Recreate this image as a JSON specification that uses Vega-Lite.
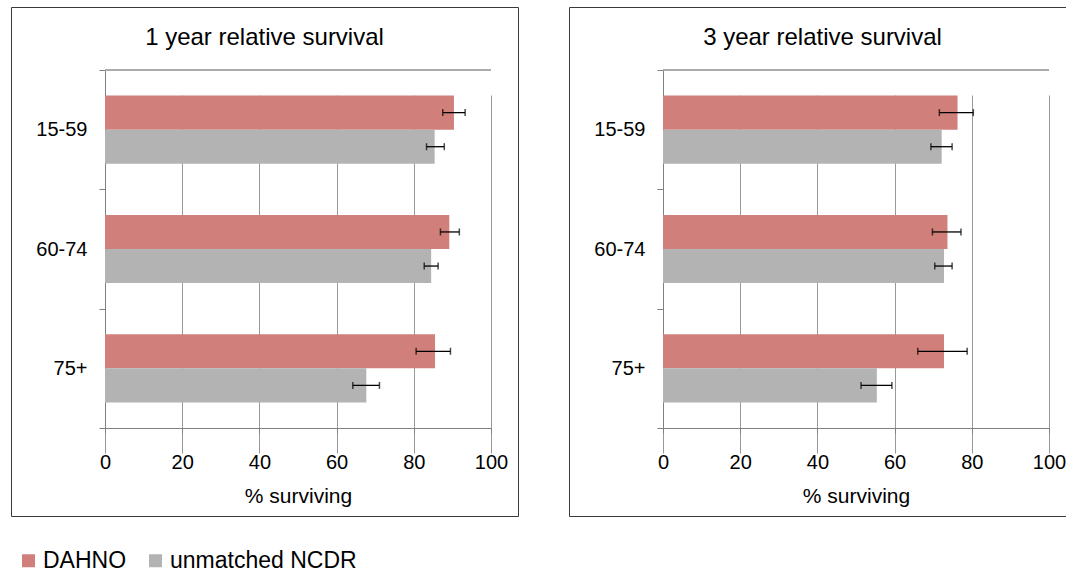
{
  "$schema": "https://vega.github.io/schema/vega-lite/v6.json",
  "padding": {"left": 10, "top": -4, "right": 0, "bottom": 0},
  "autosize": {"type": "pad"},
  "background": "white",
  "data": {"values": [
    {"panel": 1, "age": "15-59", "series": "DAHNO", "value": 90.4, "lo": 87.5, "hi": 93.3},
    {"panel": 1, "age": "15-59", "series": "unmatched NCDR", "value": 85.4, "lo": 83.3, "hi": 87.9},
    {"panel": 1, "age": "60-74", "series": "DAHNO", "value": 89.2, "lo": 86.9, "hi": 91.8},
    {"panel": 1, "age": "60-74", "series": "unmatched NCDR", "value": 84.5, "lo": 82.7, "hi": 86.3},
    {"panel": 1, "age": "75+", "series": "DAHNO", "value": 85.5, "lo": 80.6, "hi": 89.5},
    {"panel": 1, "age": "75+", "series": "unmatched NCDR", "value": 67.7, "lo": 64.2, "hi": 71.1},
    {"panel": 3, "age": "15-59", "series": "DAHNO", "value": 76.3, "lo": 71.6, "hi": 80.4},
    {"panel": 3, "age": "15-59", "series": "unmatched NCDR", "value": 72.2, "lo": 69.4, "hi": 74.9},
    {"panel": 3, "age": "60-74", "series": "DAHNO", "value": 73.7, "lo": 69.8, "hi": 77.2},
    {"panel": 3, "age": "60-74", "series": "unmatched NCDR", "value": 72.8, "lo": 70.4, "hi": 74.9},
    {"panel": 3, "age": "75+", "series": "DAHNO", "value": 72.8, "lo": 66.0, "hi": 78.8},
    {"panel": 3, "age": "75+", "series": "unmatched NCDR", "value": 55.4, "lo": 51.3, "hi": 59.3}
  ]},
  "spacing": 49,
  "resolve": {"scale": {"color": "shared"}},
  "hconcat": [
    {
      "width": 507, "height": 509,
      "title": {"text": "1 year relative survival", "fontSize": 24, "fontWeight": "normal", "anchor": "middle", "frame": "group", "offset": -65, "baseline": "middle", "color": "black"},
      "transform": [{"filter": "datum.panel == 1"}],
      "layer": [
        {
          "mark": {"type": "bar"},
          "encoding": {
            "y": {"field": "age", "type": "nominal", "sort": null,
                  "scale": {"domain": ["15-59", "60-74", "75+"], "range": [63, 421], "paddingInner": 0, "paddingOuter": 0},
                  "axis": {"title": null, "offset": -94, "tickBand": "extent", "tickSize": 6, "labelPadding": 12, "labelFontSize": 20, "labelColor": "black", "domainColor": "#808080", "tickColor": "#808080", "grid": false}},
            "yOffset": {"field": "series", "type": "nominal", "scale": {"domain": ["DAHNO", "unmatched NCDR"], "paddingInner": 0, "paddingOuter": 0.75}},
            "x": {"field": "value", "type": "quantitative",
                  "scale": {"domain": [0, 100], "range": [94, 480], "nice": false},
                  "axis": {"values": [0, 20, 40, 60, 80, 100], "offset": -88, "grid": true, "gridColor": "#999999", "domainColor": "#808080", "tickColor": "#808080", "tickSize": 5, "labelPadding": 19, "labelFlush": false, "labelFontSize": 20, "labelColor": "black", "title": "% surviving", "titleFontSize": 21, "titleFontWeight": "normal", "titleColor": "black", "titlePadding": 13}},
            "color": {"field": "series", "type": "nominal",
                      "scale": {"domain": ["DAHNO", "unmatched NCDR"], "range": ["#D17F7B", "#B3B3B3"]},
                      "legend": {"title": null, "orient": "none", "legendX": 6, "legendY": 542, "direction": "horizontal", "symbolType": "square", "symbolSize": 169, "symbolStrokeWidth": 0, "labelFontSize": 23, "labelLimit": 0, "labelColor": "black", "labelOffset": 3, "columnPadding": 17, "padding": 0}}
          }
        },
        {
          "mark": {"type": "rule", "color": "#aaaaaa", "strokeWidth": 1},
          "encoding": {
            "x": {"datum": 0, "type": "quantitative"},
            "x2": {"datum": 100},
            "y": {"datum": "15-59", "type": "nominal", "bandPosition": 0}
          }
        },
        {
          "mark": {"type": "rule", "color": "black", "strokeWidth": 1.3},
          "encoding": {
            "y": {"field": "age", "type": "nominal", "sort": null},
            "yOffset": {"field": "series", "type": "nominal"},
            "x": {"field": "lo", "type": "quantitative"},
            "x2": {"field": "hi"}
          }
        },
        {
          "transform": [{"fold": ["lo", "hi"], "as": ["end", "pos"]}],
          "mark": {"type": "tick", "orient": "vertical", "size": 7, "thickness": 1.5, "color": "black"},
          "encoding": {
            "y": {"field": "age", "type": "nominal", "sort": null},
            "yOffset": {"field": "series", "type": "nominal"},
            "x": {"field": "pos", "type": "quantitative"}
          }
        }
      ]
    },
    {
      "width": 507, "height": 509,
      "title": {"text": "3 year relative survival", "fontSize": 24, "fontWeight": "normal", "anchor": "middle", "frame": "group", "offset": -65, "baseline": "middle", "color": "black"},
      "transform": [{"filter": "datum.panel == 3"}],
      "layer": [
        {
          "mark": {"type": "bar"},
          "encoding": {
            "y": {"field": "age", "type": "nominal", "sort": null,
                  "scale": {"domain": ["15-59", "60-74", "75+"], "range": [63, 421], "paddingInner": 0, "paddingOuter": 0},
                  "axis": {"title": null, "offset": -94, "tickBand": "extent", "tickSize": 6, "labelPadding": 12, "labelFontSize": 20, "labelColor": "black", "domainColor": "#808080", "tickColor": "#808080", "grid": false}},
            "yOffset": {"field": "series", "type": "nominal", "scale": {"domain": ["DAHNO", "unmatched NCDR"], "paddingInner": 0, "paddingOuter": 0.75}},
            "x": {"field": "value", "type": "quantitative",
                  "scale": {"domain": [0, 100], "range": [94, 480], "nice": false},
                  "axis": {"values": [0, 20, 40, 60, 80, 100], "offset": -88, "grid": true, "gridColor": "#999999", "domainColor": "#808080", "tickColor": "#808080", "tickSize": 5, "labelPadding": 19, "labelFlush": false, "labelFontSize": 20, "labelColor": "black", "title": "% surviving", "titleFontSize": 21, "titleFontWeight": "normal", "titleColor": "black", "titlePadding": 13}},
            "color": {"field": "series", "type": "nominal",
                      "scale": {"domain": ["DAHNO", "unmatched NCDR"], "range": ["#D17F7B", "#B3B3B3"]},
                      "legend": {"title": null, "orient": "none", "legendX": 6, "legendY": 542, "direction": "horizontal", "symbolType": "square", "symbolSize": 169, "symbolStrokeWidth": 0, "labelFontSize": 23, "labelLimit": 0, "labelColor": "black", "labelOffset": 3, "columnPadding": 17, "padding": 0}}
          }
        },
        {
          "mark": {"type": "rule", "color": "#aaaaaa", "strokeWidth": 1},
          "encoding": {
            "x": {"datum": 0, "type": "quantitative"},
            "x2": {"datum": 100},
            "y": {"datum": "15-59", "type": "nominal", "bandPosition": 0}
          }
        },
        {
          "mark": {"type": "rule", "color": "black", "strokeWidth": 1.3},
          "encoding": {
            "y": {"field": "age", "type": "nominal", "sort": null},
            "yOffset": {"field": "series", "type": "nominal"},
            "x": {"field": "lo", "type": "quantitative"},
            "x2": {"field": "hi"}
          }
        },
        {
          "transform": [{"fold": ["lo", "hi"], "as": ["end", "pos"]}],
          "mark": {"type": "tick", "orient": "vertical", "size": 7, "thickness": 1.5, "color": "black"},
          "encoding": {
            "y": {"field": "age", "type": "nominal", "sort": null},
            "yOffset": {"field": "series", "type": "nominal"},
            "x": {"field": "pos", "type": "quantitative"}
          }
        }
      ]
    }
  ],
  "config": {
    "font": "Liberation Sans",
    "view": {"stroke": "#3a3a3a", "strokeWidth": 1}
  }
}
